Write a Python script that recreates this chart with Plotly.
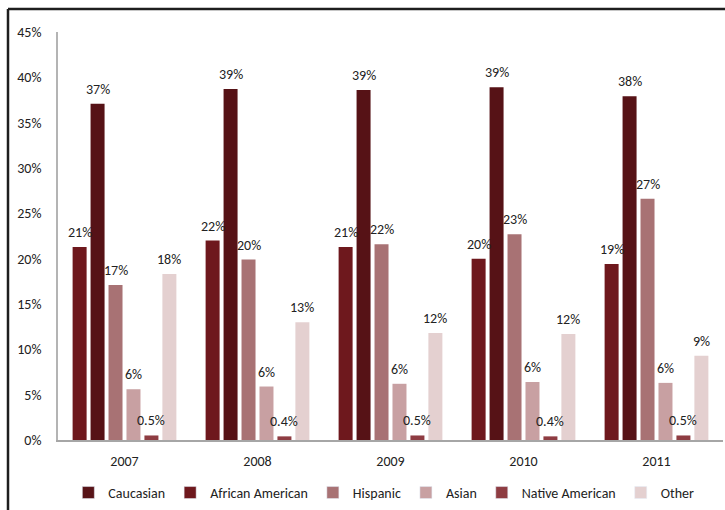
import plotly.graph_objects as go

# Share of each group by year (percent)
years = ["2007", "2008", "2009", "2010", "2011"]
groups = ["Caucasian", "African American", "Hispanic", "Asian", "Native American", "Other"]

caucasian = [21.3, 22.0, 21.3, 20.0, 19.4]
african_american = [37.1, 38.7, 38.6, 38.9, 37.9]
hispanic = [17.1, 19.9, 21.6, 22.7, 26.6]
asian = [5.6, 5.9, 6.2, 6.4, 6.3]
native_american = [0.5, 0.4, 0.5, 0.4, 0.5]
other = [18.3, 13.0, 11.8, 11.7, 9.3]

series = [caucasian, african_american, hispanic, asian, native_american, other]

bar_colors = ["#6e181d", "#561216", "#a87274", "#c8a0a2", "#8e3c42", "#e4d0d0"]
legend_colors = ["#581418", "#6e181d", "#a87274", "#c8a0a2", "#8e3c42", "#e4d0d0"]

FONT = "Carlito, Calibri, Lato, sans-serif"
FS = 14

L, R, T, B = 58, 2, 32, 69
W, H = 725, 510
pw = W - L - R
ph = H - T - B
BARGAP = 0.19
GROUPGAP = 0.22


def label(v):
    if v < 1:
        return f"{v:.1f}%"
    return f"{int(v + 0.5)}%"


fig = go.Figure()

for name, vals, col in zip(groups, series, bar_colors):
    fig.add_trace(go.Bar(
        x=years, y=vals, name=name,
        marker=dict(color=col, line=dict(width=0)),
        showlegend=False,
    ))

# Value labels above each bar, offset to the bar's slot within its group
slot_px = pw / len(years) * (1 - BARGAP) / len(series)
for i, vals in enumerate(series):
    dx = (i - (len(series) - 1) / 2) * slot_px
    for k, v in enumerate(vals):
        fig.add_annotation(
            x=k, y=v, xref="x", yref="y",
            text=label(v), showarrow=False,
            xshift=dx, yshift=4, yanchor="bottom",
            font=dict(family=FONT, size=FS, color="#222222"),
        )

# Legend swatches on a hidden overlay axis pair
for name, col in zip(groups, legend_colors):
    fig.add_trace(go.Bar(
        x=[None], y=[None], name=name,
        marker=dict(color=col),
        xaxis="x2", yaxis="y2",
        showlegend=True,
    ))

# Outer frame (left and top edges visible)
x0 = (8 - L) / pw
y1 = (ph + T - 9) / ph
fig.add_shape(type="line", xref="paper", yref="paper",
              x0=x0, x1=x0, y0=y1, y1=-0.3,
              line=dict(color="#1e1e1e", width=2.5))
fig.add_shape(type="line", xref="paper", yref="paper",
              x0=x0, x1=1.2, y0=y1, y1=y1,
              line=dict(color="#1e1e1e", width=2.5))

fig.update_layout(
    width=W, height=H,
    margin=dict(l=L, r=R, t=T, b=B),
    paper_bgcolor="white", plot_bgcolor="white",
    barmode="group", bargap=BARGAP, bargroupgap=GROUPGAP,
    font=dict(family=FONT, size=FS, color="#222222"),
    xaxis=dict(
        type="category", categoryorder="array", categoryarray=years,
        range=[-0.5, len(years) - 0.5],
        showgrid=False, showline=True, linecolor="#a6a6a6", linewidth=1.5,
        ticks="", ticklabelstandoff=7,
        tickfont=dict(family=FONT, size=FS, color="#222222"),
    ),
    yaxis=dict(
        range=[0, 45], dtick=5, ticksuffix="%",
        showgrid=False, zeroline=False,
        showline=True, linecolor="#b4b4b4", linewidth=1.5,
        ticks="", ticklabelstandoff=12,
        tickfont=dict(family=FONT, size=FS, color="#222222"),
    ),
    xaxis2=dict(overlaying="x", visible=False, range=[0, 1]),
    yaxis2=dict(overlaying="y", visible=False, range=[0, 1]),
    legend=dict(
        orientation="h", x=0.49, xanchor="center",
        y=-0.127, yanchor="middle",
        font=dict(family=FONT, size=FS, color="#222222"),
        itemwidth=30,
    ),
    showlegend=True,
)

fig.write_html("out.html")
